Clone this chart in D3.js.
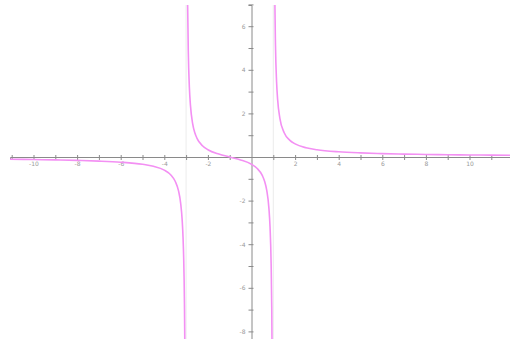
<!DOCTYPE html>
<html>
<head lang="en">
    <meta charset="UTF-8">
    <title>Rational function graph</title>
    <script type="text/javascript" src="https://cdn.jsdelivr.net/npm/d3@7/dist/d3.min.js"></script>
    <style>
        body { margin: 0; background: #fff; }
        svg { display: block; }
        .tick text { font-family: "DejaVu Sans", sans-serif; font-size: 6px; fill: #999; }
    </style>
</head>
<body>

<svg width="510" height="339"></svg>

<script>
    // tick values
    var xTicks = d3.range(-11, 12);
    var yTicks = d3.range(-8, 8);
    var xLabels = [-10, -8, -6, -4, -2, 2, 4, 6, 8, 10];
    var yLabels = [-8, -6, -4, -2, 2, 4, 6];

    // vertical asymptotes
    var asymptotes = [-3, 1];

    // left branch (x < -3)
    var leftX = [-11.1, -10, -9, -8, -7, -6, -5, -4.5, -4, -3.7, -3.5, -3.35, -3.25, -3.18, -3.14, -3.11, -3.09, -3.075, -3.06];
    var leftY = [-0.103, -0.117, -0.133, -0.156, -0.188, -0.238, -0.333, -0.424, -0.6, -0.821, -1.111, -1.543, -2.118, -2.897, -3.692, -4.667, -5.678, -6.79, -8.46];

    // middle branch (-3 < x < 1)
    var midX = [-2.93, -2.9, -2.85, -2.8, -2.7, -2.6, -2.5, -2.25, -2, -1.5, -1, -0.5, 0, 0.25, 0.5, 0.6, 0.7, 0.8, 0.85, 0.9, 0.93, 0.95];
    var midY = [7.02, 4.87, 3.203, 2.368, 1.532, 1.111, 0.857, 0.513, 0.333, 0.133, 0, -0.133, -0.333, -0.513, -0.857, -1.111, -1.532, -2.368, -3.203, -4.87, -7.02, -9.87];

    // right branch (x > 1)
    var rightX = [1.05, 1.07, 1.1, 1.15, 1.2, 1.3, 1.5, 1.75, 2, 2.5, 3, 4, 5, 6, 7, 8, 9, 10, 11, 11.9];
    var rightY = [10.1, 7.27, 5.12, 3.454, 2.619, 1.783, 1.111, 0.772, 0.6, 0.424, 0.333, 0.238, 0.188, 0.156, 0.133, 0.117, 0.104, 0.094, 0.0857, 0.0794];

    var svg = d3.select("svg");
    var plotLeft = 10, plotRight = 510, plotTop = 5, plotBottom = 339;
    var unit = 21.8;
    var ox = 251.5, oy = 157;

    var x = d3.scaleLinear().domain([(plotLeft - ox) / unit, (plotRight - ox) / unit]).range([plotLeft, plotRight]);
    var y = d3.scaleLinear().domain([(oy - plotBottom) / unit, (oy - plotTop) / unit]).range([plotBottom, plotTop]);

    svg.append("clipPath").attr("id", "plot")
        .append("rect")
        .attr("x", plotLeft).attr("y", plotTop)
        .attr("width", plotRight - plotLeft).attr("height", plotBottom - plotTop);

    // faint asymptote lines
    svg.selectAll("line.asym")
        .data(asymptotes)
        .enter().append("line")
        .attr("class", "asym")
        .attr("x1", function (d) { return x(d); })
        .attr("x2", function (d) { return x(d); })
        .attr("y1", plotTop)
        .attr("y2", plotBottom)
        .style("stroke", "#ececec")
        .style("stroke-width", 1);

    function fmt(list) {
        return function (d) { return list.indexOf(d) >= 0 ? d : ""; };
    }

    var xAxis = svg.append("g")
        .attr("transform", "translate(0," + y(0) + ")")
        .call(d3.axisBottom(x).tickValues(xTicks).tickSizeOuter(0).tickSize(3).tickPadding(2).tickFormat(fmt(xLabels)));

    var yAxis = svg.append("g")
        .attr("transform", "translate(" + x(0) + ",0)")
        .call(d3.axisLeft(y).tickValues(yTicks).tickSizeOuter(0).tickSize(3).tickPadding(3).tickFormat(fmt(yLabels)));

    xAxis.selectAll(".tick line").attr("y1", -2).attr("y2", 3);
    yAxis.selectAll(".tick line").attr("x1", -3).attr("x2", 2);
    xAxis.selectAll(".tick").filter(function (d) { return d === 0; }).remove();
    yAxis.selectAll(".tick").filter(function (d) { return d === 0; }).remove();

    svg.selectAll(".domain, .tick line").style("stroke", "#8a8a8a").style("stroke-width", 1);

    // the curve, one path per branch
    var branches = [
        d3.zip(leftX, leftY),
        d3.zip(midX, midY),
        d3.zip(rightX, rightY)
    ];

    var line = d3.line()
        .x(function (d) { return x(d[0]); })
        .y(function (d) { return y(d[1]); })
        .curve(d3.curveMonotoneX);

    svg.append("g").attr("clip-path", "url(#plot)")
        .selectAll("path")
        .data(branches)
        .enter().append("path")
        .attr("d", line)
        .style("fill", "none")
        .style("stroke", "#f390f3")
        .style("stroke-width", 1.6);

</script>
</body>
</html>
